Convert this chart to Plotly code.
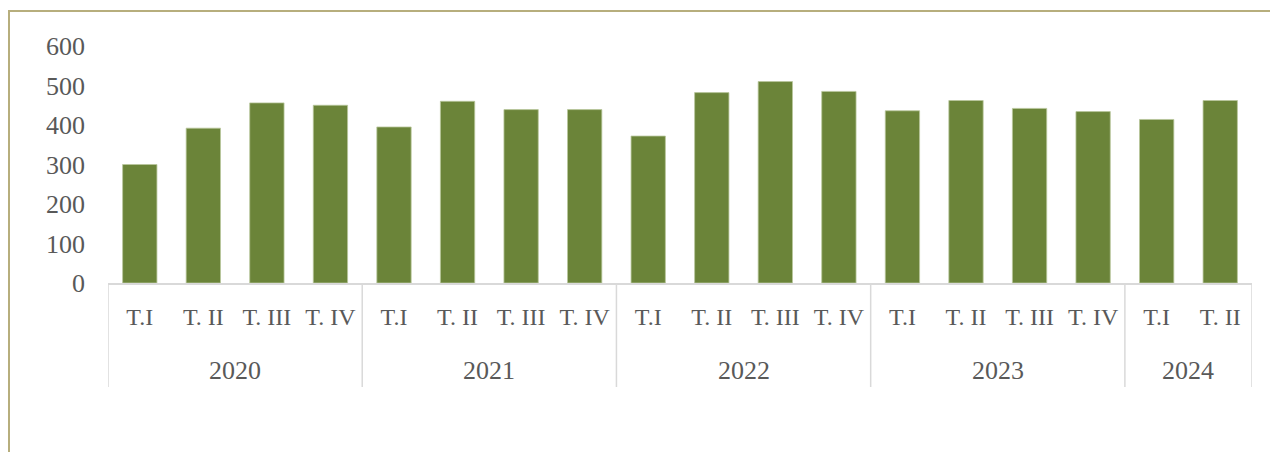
import plotly.graph_objects as go

years = ["2020", "2021", "2022", "2023", "2024"]
quarters_per_year = [
    ["T.I", "T. II", "T. III", "T. IV"],
    ["T.I", "T. II", "T. III", "T. IV"],
    ["T.I", "T. II", "T. III", "T. IV"],
    ["T.I", "T. II", "T. III", "T. IV"],
    ["T.I", "T. II"],
]
values = [300, 392, 456, 450,
          395, 460, 439, 439,
          372, 482, 510, 485,
          436, 462, 442, 434,
          414, 462]
y_ticks = [0, 100, 200, 300, 400, 500, 600]

quarter_labels = [q for qs in quarters_per_year for q in qs]
xs = list(range(len(quarter_labels)))

# page body has an 8px margin, so the figure starts at (8, 8)
OFF = 8
W, H = 1278 - OFF, 452 - OFF
L, T = 108 - OFF, 46 - OFF
BASE = 283 - OFF           # y pixel of the x axis line (figure coords)
R = W - (1252 - OFF)
B = H - BASE
plot_h = H - T - B
plot_w = W - L - R

FONT = "Liberation Serif"
TXT = "#595959"
GRID = "#d9d9d9"

fig = go.Figure()
fig.add_trace(go.Bar(
    x=xs, y=values,
    marker=dict(color="#6b8439", line=dict(width=0.8, color="#b9c79c")),
    width=0.54,
    hoverinfo="y",
))

shapes = []
annotations = []
start = 0
bounds = [-0.5]
for yr, qs in zip(years, quarters_per_year):
    end = start + len(qs) - 1
    annotations.append(dict(
        x=(start + end) / 2, y=(BASE - (370 - OFF)) / plot_h, xref="x", yref="paper",
        text=yr, showarrow=False, xanchor="center", yanchor="middle",
        font=dict(family=FONT, size=26, color=TXT),
    ))
    bounds.append(end + 0.5)
    start = end + 1
for b in bounds:
    shapes.append(dict(
        type="line", xref="x", yref="paper", x0=b, x1=b,
        y0=0, y1=(BASE - (387 - OFF)) / plot_h,
        line=dict(color=GRID, width=1.5),
    ))
# outer frame (left and top edges visible)
shapes.append(dict(
    type="rect", xref="paper", yref="paper",
    x0=(1 - L) / plot_w, x1=(W + 20 - L) / plot_w,
    y0=(BASE - H - 20) / plot_h, y1=(BASE - (11 - OFF)) / plot_h,
    line=dict(color="#b7ae7d", width=2), fillcolor="rgba(0,0,0,0)",
    layer="below",
))

fig.update_layout(
    width=W, height=H,
    margin=dict(l=L, r=R, t=T, b=B),
    paper_bgcolor="white", plot_bgcolor="white",
    showlegend=False,
    shapes=shapes, annotations=annotations,
    xaxis=dict(
        range=[-0.5, len(xs) - 0.5],
        tickmode="array", tickvals=xs, ticktext=quarter_labels,
        showline=True, linecolor=GRID, linewidth=1.5,
        showgrid=False, zeroline=False, ticks="",
        tickfont=dict(family=FONT, size=24, color=TXT),
        ticklabelstandoff=11,
        fixedrange=True,
    ),
    yaxis=dict(
        range=[0, 600],
        tickmode="array", tickvals=y_ticks,
        showgrid=False, zeroline=False, showline=False, ticks="",
        tickfont=dict(family=FONT, size=26, color=TXT),
        ticklabelstandoff=22,
        fixedrange=True,
    ),
)

fig.write_html("out.html")
